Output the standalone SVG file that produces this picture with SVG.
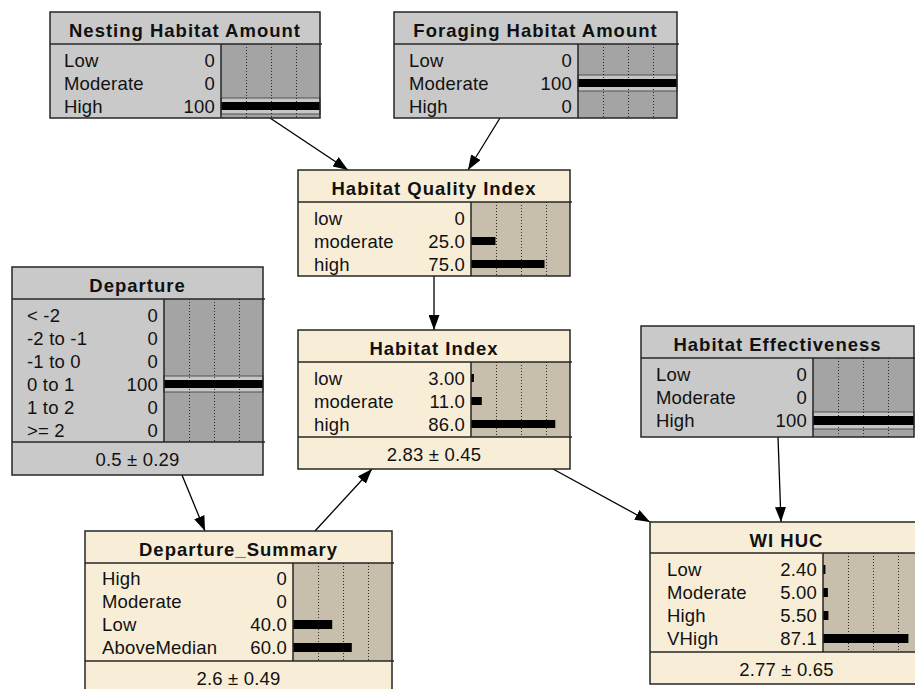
<svg xmlns="http://www.w3.org/2000/svg" width="915" height="689" viewBox="0 0 915 689">
  <defs>
    <marker id="arrow" markerUnits="userSpaceOnUse" markerWidth="15" markerHeight="11" refX="15" refY="5.5" orient="auto">
      <path d="M0,0 L15,5.5 L0,11 z" fill="#000"/>
    </marker>
  </defs>
  <style>
    .frame { fill: none; stroke: #262626; stroke-width: 1.5; }
    .sep { stroke: #262626; stroke-width: 1.5; }
    .gray { fill: #c9c9c9; }
    .grayBar { fill: #a4a4a4; }
    .cream { fill: #f8eed8; }
    .creamBar { fill: #c7bfab; }
    .grid { stroke: #2a2a2a; stroke-width: 1; stroke-dasharray: 1 2; }
    .band { fill: #c6c6c6; stroke: #505050; stroke-width: 1; }
    .bar { fill: #000; }
    text { font-family: "Liberation Sans", Arial, sans-serif; fill: #111; }
    .title { font-size: 18.5px; font-weight: bold; letter-spacing: 1px; text-anchor: middle; }
    .lbl { font-size: 18.5px; letter-spacing: 0.2px; }
    .val { font-size: 18.5px; letter-spacing: 0.2px; text-anchor: end; }
    .foot { font-size: 18.5px; letter-spacing: 0.2px; text-anchor: middle; }
    .edge { stroke: #000; stroke-width: 1.3; fill: none; marker-end: url(#arrow); }
  </style>

  <!-- connectors -->
  <g id="connectors">
    <line class="edge" x1="270" y1="118" x2="348" y2="170"/>
    <line class="edge" x1="500" y1="118" x2="468" y2="170"/>
    <line class="edge" x1="434" y1="276" x2="434" y2="330"/>
    <line class="edge" x1="182" y1="475" x2="205" y2="531"/>
    <line class="edge" x1="315" y1="531" x2="372" y2="469"/>
    <line class="edge" x1="553" y1="469" x2="650" y2="522"/>
    <line class="edge" x1="778" y1="437" x2="781" y2="522"/>
  </g>

  <!-- Nesting Habitat Amount -->
  <g id="nesting-habitat-amount">
    <rect class="gray" x="50" y="12" width="270" height="106"/>
    <rect class="grayBar" x="221" y="44" width="99" height="74"/>
    <rect class="band" x="221" y="98" width="99" height="16"/>
    <line class="grid" x1="246.5" y1="44" x2="246.5" y2="118"/>
    <line class="grid" x1="271.5" y1="44" x2="271.5" y2="118"/>
    <line class="grid" x1="296.5" y1="44" x2="296.5" y2="118"/>
    <rect class="bar" x="221" y="102" width="99" height="8"/>
    <line class="sep" x1="50" y1="44" x2="322" y2="44"/>
    <line class="sep" x1="221" y1="44" x2="221" y2="118"/>
    <rect class="frame" x="50" y="12" width="270" height="106"/>
    <text class="title" x="185" y="37">Nesting Habitat Amount</text>
    <text class="lbl" x="64" y="67">Low</text><text class="val" x="215" y="67">0</text>
    <text class="lbl" x="64" y="90">Moderate</text><text class="val" x="215" y="90">0</text>
    <text class="lbl" x="64" y="113">High</text><text class="val" x="215" y="113">100</text>
  </g>

  <!-- Foraging Habitat Amount -->
  <g id="foraging-habitat-amount">
    <rect class="gray" x="394" y="12" width="283" height="106"/>
    <rect class="grayBar" x="578" y="44" width="99" height="74"/>
    <rect class="band" x="578" y="75" width="99" height="16"/>
    <line class="grid" x1="603.5" y1="44" x2="603.5" y2="118"/>
    <line class="grid" x1="628.5" y1="44" x2="628.5" y2="118"/>
    <line class="grid" x1="653.5" y1="44" x2="653.5" y2="118"/>
    <rect class="bar" x="578" y="79" width="99" height="8"/>
    <line class="sep" x1="394" y1="44" x2="679" y2="44"/>
    <line class="sep" x1="578" y1="44" x2="578" y2="118"/>
    <rect class="frame" x="394" y="12" width="283" height="106"/>
    <text class="title" x="535.5" y="37">Foraging Habitat Amount</text>
    <text class="lbl" x="409" y="67">Low</text><text class="val" x="572" y="67">0</text>
    <text class="lbl" x="409" y="90">Moderate</text><text class="val" x="572" y="90">100</text>
    <text class="lbl" x="409" y="113">High</text><text class="val" x="572" y="113">0</text>
  </g>

  <!-- Habitat Quality Index -->
  <g id="habitat-quality-index">
    <rect class="cream" x="298" y="170" width="272" height="106"/>
    <rect class="creamBar" x="471" y="202" width="99" height="74"/>
    <line class="grid" x1="496.5" y1="202" x2="496.5" y2="276"/>
    <line class="grid" x1="521.5" y1="202" x2="521.5" y2="276"/>
    <line class="grid" x1="546.5" y1="202" x2="546.5" y2="276"/>
    <rect class="bar" x="471" y="237" width="24.5" height="8"/>
    <rect class="bar" x="471" y="260" width="73.5" height="8"/>
    <line class="sep" x1="298" y1="202" x2="572" y2="202"/>
    <line class="sep" x1="471" y1="202" x2="471" y2="276"/>
    <rect class="frame" x="298" y="170" width="272" height="106"/>
    <text class="title" x="434" y="195">Habitat Quality Index</text>
    <text class="lbl" x="314" y="225">low</text><text class="val" x="465" y="225">0</text>
    <text class="lbl" x="314" y="248">moderate</text><text class="val" x="465" y="248">25.0</text>
    <text class="lbl" x="314" y="271">high</text><text class="val" x="465" y="271">75.0</text>
  </g>

  <!-- Departure -->
  <g id="departure">
    <rect class="gray" x="12" y="267" width="251" height="208"/>
    <rect class="grayBar" x="164" y="299" width="99" height="143"/>
    <rect class="band" x="164" y="376" width="99" height="16"/>
    <line class="grid" x1="189.5" y1="299" x2="189.5" y2="442"/>
    <line class="grid" x1="214.5" y1="299" x2="214.5" y2="442"/>
    <line class="grid" x1="239.5" y1="299" x2="239.5" y2="442"/>
    <rect class="bar" x="164" y="380" width="99" height="8"/>
    <line class="sep" x1="12" y1="299" x2="265" y2="299"/>
    <line class="sep" x1="164" y1="299" x2="164" y2="442"/>
    <line class="sep" x1="12" y1="442" x2="265" y2="442"/>
    <rect class="frame" x="12" y="267" width="251" height="208"/>
    <text class="title" x="137.5" y="292">Departure</text>
    <text class="lbl" x="27" y="322">&lt; -2</text><text class="val" x="158" y="322">0</text>
    <text class="lbl" x="27" y="345">-2 to -1</text><text class="val" x="158" y="345">0</text>
    <text class="lbl" x="27" y="368">-1 to 0</text><text class="val" x="158" y="368">0</text>
    <text class="lbl" x="27" y="391">0 to 1</text><text class="val" x="158" y="391">100</text>
    <text class="lbl" x="27" y="414">1 to 2</text><text class="val" x="158" y="414">0</text>
    <text class="lbl" x="27" y="437">&gt;= 2</text><text class="val" x="158" y="437">0</text>
    <text class="foot" x="137.5" y="466">0.5 ± 0.29</text>
  </g>

  <!-- Habitat Index -->
  <g id="habitat-index">
    <rect class="cream" x="298" y="330" width="272" height="139"/>
    <rect class="creamBar" x="471" y="362" width="99" height="75"/>
    <line class="grid" x1="496.5" y1="362" x2="496.5" y2="437"/>
    <line class="grid" x1="521.5" y1="362" x2="521.5" y2="437"/>
    <line class="grid" x1="546.5" y1="362" x2="546.5" y2="437"/>
    <rect class="bar" x="471" y="374" width="2.9" height="8"/>
    <rect class="bar" x="471" y="397" width="10.8" height="8"/>
    <rect class="bar" x="471" y="420" width="84.3" height="8"/>
    <line class="sep" x1="298" y1="362" x2="572" y2="362"/>
    <line class="sep" x1="471" y1="362" x2="471" y2="437"/>
    <line class="sep" x1="298" y1="437" x2="572" y2="437"/>
    <rect class="frame" x="298" y="330" width="272" height="139"/>
    <text class="title" x="434" y="355">Habitat Index</text>
    <text class="lbl" x="314" y="385">low</text><text class="val" x="465" y="385">3.00</text>
    <text class="lbl" x="314" y="408">moderate</text><text class="val" x="465" y="408">11.0</text>
    <text class="lbl" x="314" y="431">high</text><text class="val" x="465" y="431">86.0</text>
    <text class="foot" x="434" y="461">2.83 ± 0.45</text>
  </g>

  <!-- Habitat Effectiveness -->
  <g id="habitat-effectiveness">
    <rect class="gray" x="641" y="326" width="273" height="111"/>
    <rect class="grayBar" x="813" y="358" width="101" height="79"/>
    <rect class="band" x="813" y="412" width="101" height="17"/>
    <line class="grid" x1="838.5" y1="358" x2="838.5" y2="437"/>
    <line class="grid" x1="863.5" y1="358" x2="863.5" y2="437"/>
    <line class="grid" x1="888.5" y1="358" x2="888.5" y2="437"/>
    <rect class="bar" x="813" y="416" width="101" height="9"/>
    <line class="sep" x1="641" y1="358" x2="915" y2="358"/>
    <line class="sep" x1="813" y1="358" x2="813" y2="437"/>
    <rect class="frame" x="641" y="326" width="273" height="111"/>
    <text class="title" x="777.5" y="351">Habitat Effectiveness</text>
    <text class="lbl" x="656" y="381">Low</text><text class="val" x="807" y="381">0</text>
    <text class="lbl" x="656" y="404">Moderate</text><text class="val" x="807" y="404">0</text>
    <text class="lbl" x="656" y="427">High</text><text class="val" x="807" y="427">100</text>
  </g>

  <!-- Departure_Summary -->
  <g id="departure-summary">
    <rect class="cream" x="85" y="531" width="307" height="163"/>
    <rect class="creamBar" x="293" y="563" width="99" height="98"/>
    <line class="grid" x1="318.5" y1="563" x2="318.5" y2="661"/>
    <line class="grid" x1="343.5" y1="563" x2="343.5" y2="661"/>
    <line class="grid" x1="368.5" y1="563" x2="368.5" y2="661"/>
    <rect class="bar" x="293" y="620" width="39.2" height="9"/>
    <rect class="bar" x="293" y="643" width="58.8" height="9"/>
    <line class="sep" x1="85" y1="563" x2="394" y2="563"/>
    <line class="sep" x1="293" y1="563" x2="293" y2="661"/>
    <line class="sep" x1="85" y1="661" x2="394" y2="661"/>
    <rect class="frame" x="85" y="531" width="307" height="163"/>
    <text class="title" x="238.5" y="556">Departure_Summary</text>
    <text class="lbl" x="102" y="585">High</text><text class="val" x="287" y="585">0</text>
    <text class="lbl" x="102" y="608">Moderate</text><text class="val" x="287" y="608">0</text>
    <text class="lbl" x="102" y="631">Low</text><text class="val" x="287" y="631">40.0</text>
    <text class="lbl" x="102" y="654">AboveMedian</text><text class="val" x="287" y="654">60.0</text>
    <text class="foot" x="238.5" y="685">2.6 ± 0.49</text>
  </g>

  <!-- WI HUC -->
  <g id="wi-huc">
    <rect class="cream" x="650" y="522" width="273" height="162"/>
    <rect class="creamBar" x="823" y="553" width="100" height="99"/>
    <line class="grid" x1="848.5" y1="553" x2="848.5" y2="652"/>
    <line class="grid" x1="873.5" y1="553" x2="873.5" y2="652"/>
    <line class="grid" x1="898.5" y1="553" x2="898.5" y2="652"/>
    <rect class="bar" x="823" y="565" width="2.4" height="9"/>
    <rect class="bar" x="823" y="588" width="4.9" height="9"/>
    <rect class="bar" x="823" y="611" width="5.4" height="9"/>
    <rect class="bar" x="823" y="634" width="85.4" height="9"/>
    <line class="sep" x1="650" y1="553" x2="923" y2="553"/>
    <line class="sep" x1="823" y1="553" x2="823" y2="652"/>
    <line class="sep" x1="650" y1="652" x2="923" y2="652"/>
    <rect class="frame" x="650" y="522" width="273" height="162"/>
    <text class="title" x="786.5" y="547">WI HUC</text>
    <text class="lbl" x="667" y="576">Low</text><text class="val" x="817" y="576">2.40</text>
    <text class="lbl" x="667" y="599">Moderate</text><text class="val" x="817" y="599">5.00</text>
    <text class="lbl" x="667" y="622">High</text><text class="val" x="817" y="622">5.50</text>
    <text class="lbl" x="667" y="645">VHigh</text><text class="val" x="817" y="645">87.1</text>
    <text class="foot" x="786.5" y="676">2.77 ± 0.65</text>
  </g>
</svg>
